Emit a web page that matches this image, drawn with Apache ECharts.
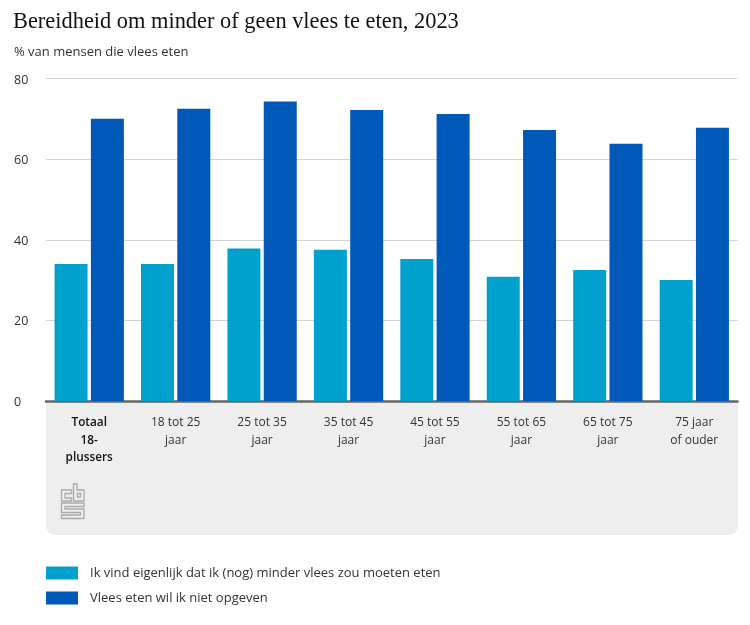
<!DOCTYPE html>
<html>
<head>
<meta charset="utf-8">
<script src="https://cdn.jsdelivr.net/npm/echarts@6/dist/echarts.min.js"></script>
<style>
  html, body { margin: 0; padding: 0; background: #fff; }
  #chart { width: 750px; height: 625px; }
</style>
</head>
<body>
<div id="chart"></div>
<script>
const categories = ['Totaal\n18-\nplussers', '18 tot 25\njaar', '25 tot 35\njaar', '35 tot 45\njaar', '45 tot 55\njaar', '55 tot 65\njaar', '65 tot 75\njaar', '75 jaar\nof ouder'];
const minderVlees = [34, 34, 37.8, 37.5, 35.2, 30.8, 32.5, 30];
const nietOpgeven = [70, 72.5, 74.3, 72.2, 71.2, 67.2, 63.8, 67.8];
const yTicks = [0, 20, 40, 60, 80];
const seriesNames = ['Ik vind eigenlijk dat ik (nog) minder vlees zou moeten eten', 'Vlees eten wil ik niet opgeven'];

const labelFont = '"Open Sans", "Noto Sans", sans-serif';
const chart = echarts.init(document.getElementById('chart'), null, { renderer: 'canvas' });

// cbs logo, lijntjes in grijs
const logoStyle = { stroke: '#aaaaaa', lineWidth: 1.3, fill: 'none' };
const logoShapes = [
  [[71.5, 490], [61.5, 490], [61.5, 501], [71.5, 501], [71.5, 498], [65, 498], [65, 493.5], [71.5, 493.5]],
  [[73.5, 484], [77, 484], [77, 490], [84, 490], [84, 501], [73.5, 501]],
  [[77.5, 493.5], [80.5, 493.5], [80.5, 497], [77.5, 497]],
  [[61.5, 503], [84, 503], [84, 506.5], [65, 506.5], [65, 509], [84, 509], [84, 518.5], [61.5, 518.5], [61.5, 515], [80.5, 515], [80.5, 512.5], [61.5, 512.5]]
];

chart.setOption({
  animation: false,
  title: [
    { text: 'Bereidheid om minder of geen vlees te eten, 2023', left: 8, top: 6,
      textStyle: { fontFamily: '"Liberation Serif", serif', fontSize: 22.4, fontWeight: 'normal', color: '#111' } },
    { text: '% van mensen die vlees eten', left: 9, top: 41,
      textStyle: { fontFamily: labelFont, fontSize: 13, fontWeight: 'normal', color: '#333' } }
  ],
  graphic: [
    { type: 'rect', z: -1, silent: true, shape: { x: 46, y: 402, width: 692, height: 133, r: [0, 0, 9, 9] }, style: { fill: '#eeeeee' } }
  ].concat(logoShapes.map((points) => ({ type: 'polygon', silent: true, shape: { points }, style: logoStyle }))),
  legend: {
    orient: 'vertical', left: 41, top: 561.5, itemWidth: 32, itemHeight: 13, itemGap: 12,
    icon: 'rect',
    textStyle: { fontFamily: labelFont, fontSize: 13, color: '#333', padding: [0, 0, 0, 7] },
    data: seriesNames
  },
  grid: { left: 46, right: 12.5, top: 78.5, height: 322.5, containLabel: false },
  xAxis: {
    type: 'category',
    data: categories,
    axisTick: { show: false },
    axisLine: { lineStyle: { color: '#666', width: 2.5 } },
    axisLabel: {
      interval: 0, margin: 13, lineHeight: 18,
      fontFamily: labelFont, fontSize: 12, color: '#333',
      formatter: (v, i) => i === 0 ? '{b|' + v.split('\n').join('}\n{b|') + '}' : v,
      rich: { b: { fontFamily: labelFont, fontSize: 11.8, fontWeight: 600, color: '#111', lineHeight: 17.5 } }
    }
  },
  yAxis: {
    type: 'value', min: yTicks[0], max: yTicks[yTicks.length - 1], interval: 20,
    axisLine: { show: false }, axisTick: { show: false },
    splitLine: { lineStyle: { color: '#d4d4d4', width: 1 } },
    axisLabel: {
      align: 'left', margin: 32, fontFamily: labelFont, fontSize: 12.5, color: '#333',
      formatter: '{t|{value}}',
      rich: { t: { fontFamily: labelFont, fontSize: 12.5, color: '#333', padding: [3, 0, 0, 0] } }
    }
  },
  series: [
    { name: seriesNames[0], type: 'bar', data: minderVlees, barWidth: 33, barGap: '10%', itemStyle: { color: '#00a1cd' } },
    { name: seriesNames[1], type: 'bar', data: nietOpgeven, barWidth: 33, barGap: '10%', itemStyle: { color: '#0058b8' } }
  ]
});
</script>
</body>
</html>
